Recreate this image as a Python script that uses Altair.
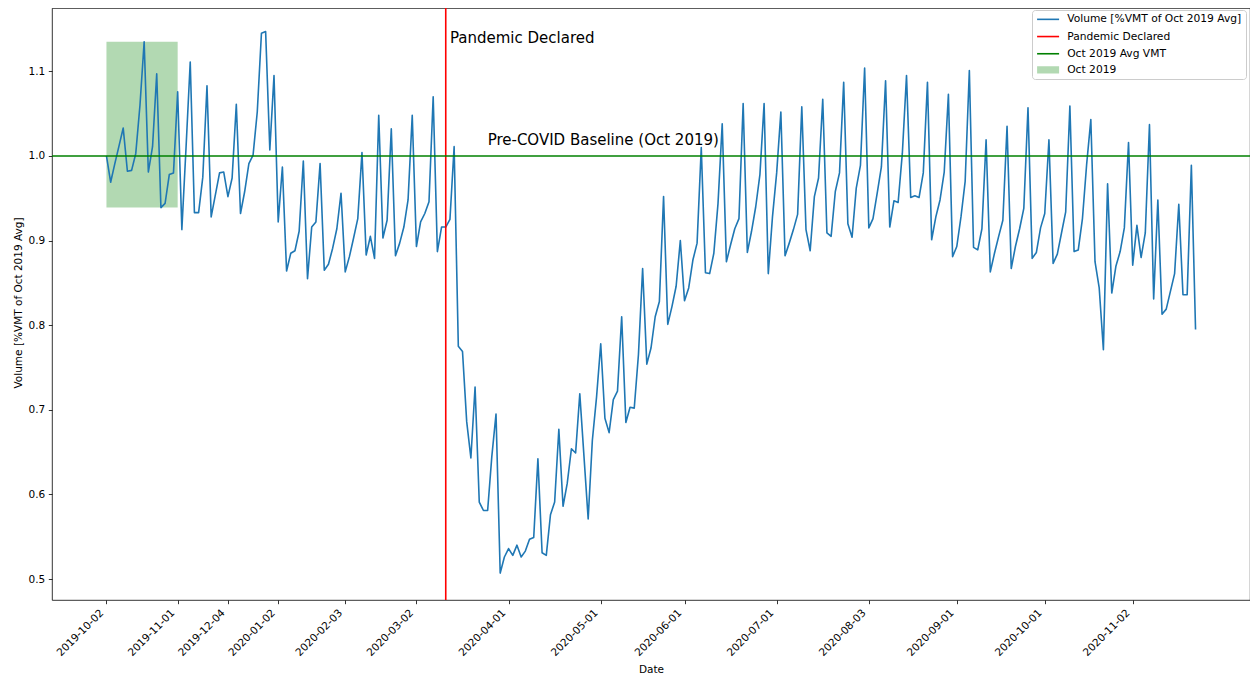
import altair as alt
import pandas as pd

# Daily volume (business days), as % of Oct 2019 average VMT
volume = [
    1.000, 0.969, 0.991, 1.012, 1.033, 0.982, 0.983, 1.003, 1.060, 1.135,
    0.981, 1.011, 1.097, 0.939, 0.944, 0.978, 0.980, 1.076, 0.913, 1.010,
    1.111, 0.933, 0.933, 0.975, 1.083, 0.928, 0.954, 0.980, 0.981, 0.952,
    0.974, 1.061, 0.932, 0.958, 0.991, 1.001, 1.052, 1.145, 1.147, 1.007,
    1.095, 0.922, 0.987, 0.864, 0.885, 0.888, 0.911, 0.994, 0.855, 0.916,
    0.922, 0.991, 0.865, 0.872, 0.891, 0.914, 0.956, 0.863, 0.881, 0.903,
    0.926, 1.004, 0.883, 0.905, 0.879, 1.048, 0.903, 0.924, 1.032, 0.882,
    0.897, 0.916, 0.948, 1.048, 0.893, 0.922, 0.932, 0.946, 1.070, 0.887,
    0.916, 0.916, 0.925, 1.011, 0.775, 0.769, 0.686, 0.643, 0.727, 0.591,
    0.581, 0.581, 0.645, 0.695, 0.507, 0.526, 0.536, 0.528, 0.540, 0.526,
    0.533, 0.547, 0.549, 0.642, 0.531, 0.528, 0.576, 0.591, 0.677, 0.586,
    0.613, 0.654, 0.649, 0.719, 0.645, 0.571, 0.664, 0.715, 0.778, 0.690,
    0.673, 0.712, 0.722, 0.810, 0.685, 0.703, 0.702, 0.765, 0.867, 0.754,
    0.773, 0.810, 0.828, 0.952, 0.801, 0.822, 0.846, 0.900, 0.829, 0.844,
    0.877, 0.897, 1.010, 0.862, 0.861, 0.885, 0.944, 1.038, 0.875, 0.895,
    0.914, 0.926, 1.062, 0.886, 0.911, 0.940, 0.978, 1.062, 0.861, 0.928,
    0.980, 1.052, 0.882, 0.897, 0.913, 0.931, 1.058, 0.913, 0.888, 0.952,
    0.974, 1.067, 0.909, 0.905, 0.958, 0.980, 1.087, 0.920, 0.904, 0.962,
    0.989, 1.104, 0.915, 0.926, 0.956, 0.987, 1.089, 0.916, 0.947, 0.945,
    1.003, 1.095, 0.951, 0.953, 0.951, 0.980, 1.087, 0.901, 0.928, 0.948,
    0.981, 1.073, 0.881, 0.893, 0.928, 0.970, 1.101, 0.892, 0.889, 0.914,
    1.019, 0.863, 0.885, 0.905, 0.924, 1.035, 0.867, 0.893, 0.914, 0.938,
    1.057, 0.879, 0.886, 0.915, 0.932, 1.019, 0.873, 0.884, 0.909, 0.934,
    1.059, 0.887, 0.889, 0.926, 0.990, 1.043, 0.875, 0.844, 0.771, 0.967,
    0.838, 0.870, 0.887, 0.915, 1.016, 0.871, 0.918, 0.880, 0.909, 1.037,
    0.831, 0.948, 0.813, 0.819, 0.840, 0.861, 0.943, 0.836, 0.836, 0.989,
    0.795,
]

# x-axis tick positions (row index of the series) and their date labels
tick_index = [0, 17, 29, 41, 57, 74, 96, 118, 138, 160, 182, 203, 224, 245]
tick_labels = [
    "2019-10-02", "2019-11-01", "2019-12-04", "2020-01-02", "2020-02-03",
    "2020-03-02", "2020-04-01", "2020-05-01", "2020-06-01", "2020-07-01",
    "2020-08-03", "2020-09-01", "2020-10-01", "2020-11-02",
]
y_ticks = [0.5, 0.6, 0.7, 0.8, 0.9, 1.0, 1.1]

series_labels = [
    "Volume [%VMT of Oct 2019 Avg]",
    "Pandemic Declared",
    "Oct 2019 Avg VMT",
    "Oct 2019",
]
series_colors = ["#1f77b4", "#ff0000", "#008000", "#008000"]

pandemic_index = 81          # 2020-03-11
baseline_value = 1.0
oct_start, oct_end = 0, 17   # 2019-10-02 .. 2019-11-01

annotations = [
    {"idx": 82, "volume": 1.133, "text": "Pandemic Declared"},
    {"idx": 91, "volume": 1.0125, "text": "Pre-COVID Baseline (Oct 2019)"},
]

FONT = "DejaVu Sans"
BLUE, RED, GREEN = series_colors[0], series_colors[1], series_colors[2]

df = pd.DataFrame({"idx": list(range(len(volume))), "volume": volume})
oct_vals = volume[oct_start:oct_end + 1]
rect_df = pd.DataFrame({
    "idx": [oct_start], "idx2": [oct_end],
    "volume": [min(oct_vals)], "volume2": [max(oct_vals)],
})
vline_df = pd.DataFrame({"idx": [pandemic_index]})
hline_df = pd.DataFrame({"volume": [baseline_value]})
text_df = pd.DataFrame(annotations)
# one single-point (hence invisible) line per series: it only carries the legend
legend_df = pd.DataFrame({
    "idx": [0] * len(series_labels),
    "volume": [volume[0]] * len(series_labels),
    "series": series_labels,
})

label_expr = (
    "[" + ",".join("'%s'" % t for t in tick_labels) + "]"
    + "[indexof([" + ",".join(str(i) for i in tick_index) + "], datum.value)]"
)

x_scale = alt.Scale(domain=[-13, 273], nice=False, zero=False)
y_scale = alt.Scale(domain=[0.4752, 1.1749], nice=False, zero=False)

x_axis = alt.Axis(
    values=tick_index, labelExpr=label_expr, labelAngle=-45,
    labelAlign="right", labelBaseline="top", labelOffset=-8.5,
    labelPadding=3.7, tickSize=3.7, labelOverlap=False, title="Date",
    titleX=599, titleY=72, titleAlign="center", titleBaseline="alphabetic",
)
y_axis = alt.Axis(
    values=y_ticks, format=".1f", tickSize=3.7, labelPadding=3.5,
    labelOverlap=False,
    title="Volume [%VMT of Oct 2019 Avg]", titleX=-31, titleY=294.5,
    titleAngle=-90, titleAlign="center", titleBaseline="alphabetic",
)

X = alt.X("idx:Q", scale=x_scale, axis=x_axis)
Y = alt.Y("volume:Q", scale=y_scale, axis=y_axis)

# legend handle: a 22px line (first dash) followed by a 22x7.3 box outline
# traced in the same subpath (hidden by the dash gap, shown only as fill)
HANDLE = ("M-4.25,0L17.75,0L17.75,3.65L-4.25,3.65"
          "L-4.25,-3.65L17.75,-3.65L17.75,0Z")

legend = alt.Legend(
    title=None, orient="none", legendX=980, legendY=2,
    symbolType=HANDLE, symbolSize=4, labelFont=FONT,
    labelFontSize=10.7, labelColor="black", labelOffset=20.5, labelLimit=400,
    rowPadding=2.2, padding=4, strokeColor="#cccccc",
    fillColor="rgba(255,255,255,0.8)", cornerRadius=3,
)

def sc(rng, typ=None):
    if typ:
        return alt.Scale(type=typ, domain=series_labels, range=rng)
    return alt.Scale(domain=series_labels, range=rng)

legend_layer = alt.Chart(legend_df).mark_line().encode(
    x=X, y=Y,
    color=alt.Color("series:N", scale=sc(series_colors), legend=legend),
    fill=alt.Fill("series:N", scale=sc(["transparent", "transparent", "transparent", GREEN]), legend=legend),
    strokeDash=alt.StrokeDash("series:N", scale=sc([[22, 1000], [22, 1000], [22, 1000], [0, 1000]], "ordinal"), legend=legend),
    strokeWidth=alt.StrokeWidth("series:N", scale=sc([1.6, 1.6, 1.6, 0], "ordinal"), legend=legend),
    opacity=alt.Opacity("series:N", scale=sc([1, 1, 1, 0.3], "ordinal"), legend=legend),
)

rect = alt.Chart(rect_df).mark_rect(color=GREEN, opacity=0.3).encode(
    x=X, x2="idx2:Q", y=Y, y2="volume2:Q"
)

line = alt.Chart(df).mark_line(color=BLUE, strokeWidth=1.6, strokeJoin="round").encode(x=X, y=Y)

vline = alt.Chart(vline_df).mark_rule(color=RED, strokeWidth=1.6).encode(x=X)
hline = alt.Chart(hline_df).mark_rule(color=GREEN, strokeWidth=1.6).encode(y=Y)

texts = alt.Chart(text_df).mark_text(
    align="left", baseline="alphabetic", font=FONT, fontSize=15, color="black"
).encode(x=X, y=Y, text="text:N")

chart = alt.layer(rect, line, vline, hline, texts, legend_layer).properties(
    width=1198, height=592,
    autosize=alt.AutoSizeParams(type="none"),
    padding={"left": 44, "top": 0, "right": 0, "bottom": 80},
).configure_view(
    stroke="black", strokeWidth=0.8
).configure_axis(
    labelFont=FONT, labelFontSize=10.5, labelColor="black",
    titleFont=FONT, titleFontSize=10.5, titleFontWeight="normal", titleColor="black",
    tickColor="black", tickWidth=0.8, grid=False, domain=False,
)

chart.save("out.html", embed_options={"renderer": "svg", "actions": False})
